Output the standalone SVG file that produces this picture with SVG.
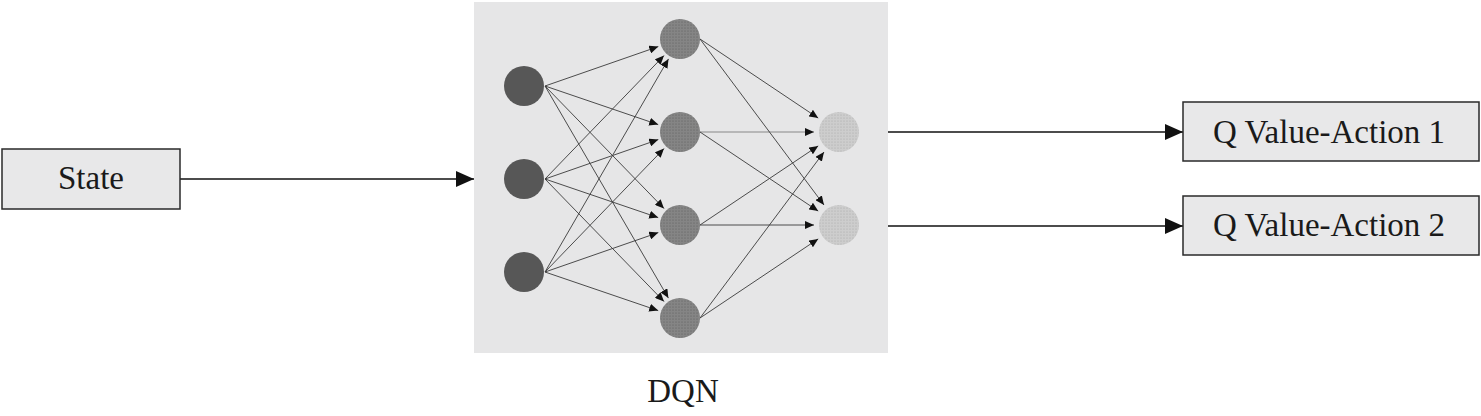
<svg xmlns="http://www.w3.org/2000/svg" width="1481" height="416" viewBox="0 0 1481 416">
<style>
.box{fill:#e8e8e9;stroke:#2a2a2a;stroke-width:1.5}
.lbl{font-family:"Liberation Serif","Times New Roman",serif;font-size:33px;fill:#1a1a1a;text-anchor:middle}
.big{stroke:#111;stroke-width:1.6;fill:none}
.net{stroke:#3a3a3a;stroke-width:0.9;fill:none}
.in{fill:#575757}
.hid{fill:url(#dotsHid)}
.out{fill:url(#dotsOut)}
</style>
<defs>
<marker id="bigArrow" markerUnits="userSpaceOnUse" markerWidth="20" markerHeight="16" refX="18" refY="8" orient="auto">
<path d="M0,0 L18,8 L0,16 Z" fill="#111"/>
</marker>
<marker id="smallArrow" markerUnits="userSpaceOnUse" markerWidth="10" markerHeight="8" refX="9" refY="4" orient="auto">
<path d="M0,0 L9,4 L0,8 Z" fill="#111"/>
</marker>
<pattern id="dotsHid" width="3" height="3" patternUnits="userSpaceOnUse">
<rect width="3" height="3" fill="#858585"/>
<circle cx="1" cy="1" r="0.6" fill="#5a5a5a"/>
</pattern>
<pattern id="dotsOut" width="3" height="3" patternUnits="userSpaceOnUse">
<rect width="3" height="3" fill="#cdcdcd"/>
<circle cx="1" cy="1" r="0.6" fill="#aaaaaa"/>
</pattern>
</defs>
<rect width="1481" height="416" fill="#ffffff"/>

<g id="dqn-panel">
<rect x="474" y="2" width="414" height="351" fill="#e6e6e7"/>
<text class="lbl" x="683" y="402">DQN</text>
</g>

<g id="connectors">
<line class="big" x1="180" y1="179" x2="474" y2="179" marker-end="url(#bigArrow)"/>
<line class="big" x1="888" y1="132" x2="1183" y2="132" marker-end="url(#bigArrow)"/>
<line class="big" x1="888" y1="226" x2="1183" y2="226" marker-end="url(#bigArrow)"/>

<line class="net" x1="545" y1="86" x2="658.3" y2="46.6" marker-end="url(#smallArrow)"/>
<line class="net" x1="545" y1="86" x2="658.2" y2="124.6" marker-end="url(#smallArrow)"/>
<line class="net" x1="545" y1="86" x2="664.0" y2="208.5" marker-end="url(#smallArrow)"/>
<line class="net" x1="545" y1="86" x2="668.4" y2="298.1" marker-end="url(#smallArrow)"/>

<line class="net" x1="545" y1="179" x2="664.0" y2="55.6" marker-end="url(#smallArrow)"/>
<line class="net" x1="545" y1="179" x2="658.3" y2="139.6" marker-end="url(#smallArrow)"/>
<line class="net" x1="545" y1="179" x2="658.2" y2="217.6" marker-end="url(#smallArrow)"/>
<line class="net" x1="545" y1="179" x2="664.0" y2="301.5" marker-end="url(#smallArrow)"/>

<line class="net" x1="545" y1="272" x2="668.5" y2="58.9" marker-end="url(#smallArrow)"/>
<line class="net" x1="545" y1="272" x2="664.0" y2="148.6" marker-end="url(#smallArrow)"/>
<line class="net" x1="545" y1="272" x2="658.3" y2="232.6" marker-end="url(#smallArrow)"/>
<line class="net" x1="545" y1="272" x2="658.2" y2="310.6" marker-end="url(#smallArrow)"/>

<line class="net" x1="700" y1="39" x2="818.2" y2="118.1" marker-end="url(#smallArrow)"/>
<line class="net" x1="700" y1="39" x2="824.0" y2="205.0" marker-end="url(#smallArrow)"/>
<line class="net" x1="700" y1="132" x2="814" y2="132" marker-end="url(#smallArrow)" stroke-opacity="0.6"/>
<line class="net" x1="700" y1="132" x2="818.2" y2="211.1" marker-end="url(#smallArrow)"/>
<line class="net" x1="700" y1="225" x2="818.2" y2="145.9" marker-end="url(#smallArrow)"/>
<line class="net" x1="700" y1="225" x2="814" y2="225" marker-end="url(#smallArrow)"/>
<line class="net" x1="700" y1="318" x2="824.0" y2="152.0" marker-end="url(#smallArrow)"/>
<line class="net" x1="700" y1="318" x2="818.2" y2="238.9" marker-end="url(#smallArrow)"/>
</g>

<g id="state">
<rect class="box" x="2" y="149" width="178" height="60"/>
<text class="lbl" x="91" y="189">State</text>
</g>

<g id="q-action-1">
<rect class="box" x="1183" y="102" width="296" height="59"/>
<text class="lbl" x="1329" y="143">Q Value-Action 1</text>
</g>

<g id="q-action-2">
<rect class="box" x="1183" y="196" width="296" height="59"/>
<text class="lbl" x="1329" y="236">Q Value-Action 2</text>
</g>

<g id="input-1"><circle class="in" cx="524" cy="86" r="20"/></g>
<g id="input-2"><circle class="in" cx="524" cy="179" r="20"/></g>
<g id="input-3"><circle class="in" cx="524" cy="272" r="20"/></g>

<g id="hidden-1"><circle class="hid" cx="680" cy="39" r="20"/></g>
<g id="hidden-2"><circle class="hid" cx="680" cy="132" r="20"/></g>
<g id="hidden-3"><circle class="hid" cx="680" cy="225" r="20"/></g>
<g id="hidden-4"><circle class="hid" cx="680" cy="318" r="20"/></g>

<g id="output-1"><circle class="out" cx="839" cy="132" r="20"/></g>
<g id="output-2"><circle class="out" cx="839" cy="225" r="20"/></g>
</svg>
